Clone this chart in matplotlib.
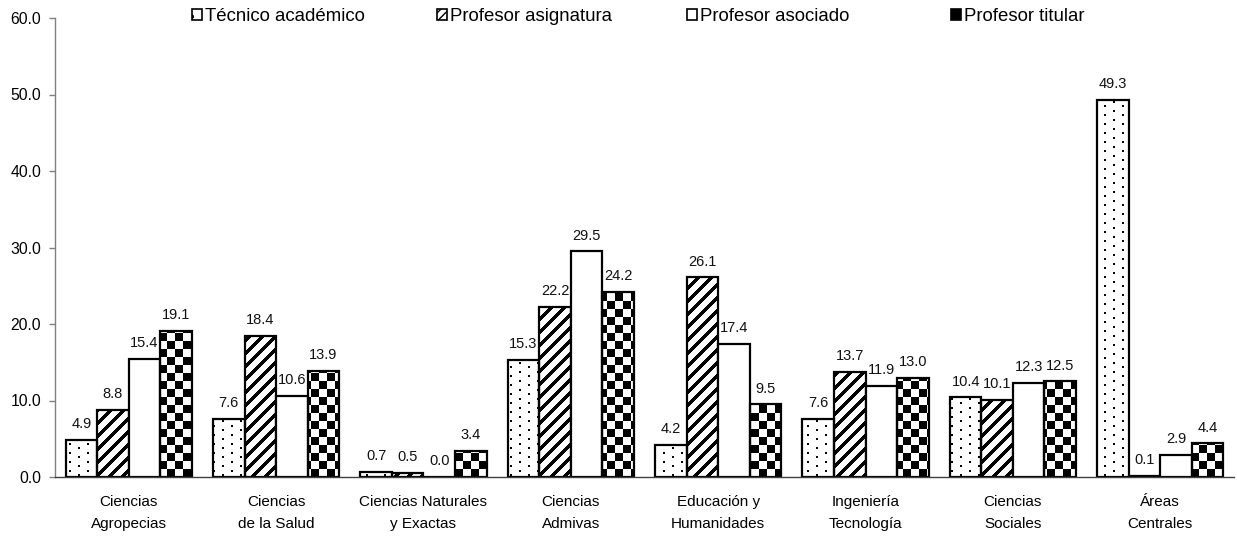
import numpy as np
import matplotlib
matplotlib.use("Agg")
import matplotlib.pyplot as plt
from matplotlib.patches import Patch
from matplotlib.path import Path

plt.rcParams['font.family'] = ['Liberation Sans', 'DejaVu Sans']

categories = ["Ciencias\nAgropecias", "Ciencias\nde la Salud", "Ciencias Naturales\ny Exactas",
              "Ciencias\nAdmivas", "Educación y\nHumanidades", "Ingeniería\nTecnología",
              "Ciencias\nSociales", "Áreas\nCentrales"]
series_names = ["Técnico académico", "Profesor asignatura", "Profesor asociado", "Profesor titular"]
tecnico = [4.9, 7.6, 0.7, 15.3, 4.2, 7.6, 10.4, 49.3]
asignatura = [8.8, 18.4, 0.5, 22.2, 26.1, 13.7, 10.1, 0.1]
asociado = [15.4, 10.6, 0.0, 29.5, 17.4, 11.9, 12.3, 2.9]
titular = [19.1, 13.9, 3.4, 24.2, 9.5, 13.0, 12.5, 4.4]
yticks = [0, 10, 20, 30, 40, 50, 60]

W, H, DPI = 12.37, 5.36, 100
fig = plt.figure(figsize=(W, H), dpi=DPI)
ax_rect = [55 / 1237, 1 - 477 / 536, (1234 - 55) / 1237, (477 - 18) / 536]
ax = fig.add_axes(ax_rect)

x = np.arange(len(categories))
bw = 0.214
offsets = np.array([-1.5, -0.5, 0.5, 1.5]) * bw
data = [tecnico, asignatura, asociado, titular]
faces = ['none', 'none', 'white', 'none']

containers = []
for d, off, fc in zip(data, offsets, faces):
    c = ax.bar(x + off, d, width=bw, facecolor=fc, edgecolor='black', linewidth=1.6, zorder=2)
    containers.append(c)

ax.set_xlim(-0.5, len(categories) - 0.5)
ax.set_ylim(0, 60)

# textures in pixel space
pw = int(round(ax_rect[2] * W * DPI))
ph = int(round(ax_rect[3] * H * DPI))
yy, xx = np.mgrid[0:ph, 0:pw]

dots = np.ones((ph, pw))
mask = (((xx + 4) % 9) < 2) & (((yy + 4 + (((xx + 4) // 9) % 2) * 4) % 9) < 2)
dots[mask] = 0

stripes = np.ones((ph, pw))
stripes[((xx - yy) % 13) < 5] = 0

checker = np.ones((ph, pw))
checker[((xx // 8) + (yy // 8)) % 2 == 0] = 0

textures = [dots, stripes, None, checker]
for tex, c in zip(textures, containers):
    if tex is None:
        continue
    paths = [p.get_path().transformed(p.get_patch_transform()) for p in c.patches]
    comp = Path.make_compound_path(*paths)
    im = ax.imshow(tex, cmap='gray', vmin=0, vmax=1, extent=(0, 1, 0, 1),
                   transform=ax.transAxes, origin='lower', interpolation='nearest',
                   aspect='auto', zorder=1)
    im.set_clip_path(comp, ax.transData)

ax.set_xlim(-0.5, len(categories) - 0.5)
ax.set_ylim(0, 60)

# value labels
for d, off in zip(data, offsets):
    for xi, v in zip(x, d):
        ax.annotate(f"{v:.1f}", (xi + off, v), xytext=(0, 8.5), textcoords='offset points',
                    ha='center', va='baseline', fontsize=10.5, color='#111111', zorder=4)

ax.set_yticks(yticks)
ax.set_yticklabels([f"{t:.1f}" for t in yticks], fontsize=11.3)
ax.set_xticks(x)
ax.set_xticklabels(categories, fontsize=11, linespacing=1.75)
ax.tick_params(axis='x', length=0, pad=13)
ax.tick_params(axis='y', length=4, width=1, color='#808080', pad=6)
for s in ['top', 'right']:
    ax.spines[s].set_visible(False)
ax.spines['left'].set_color('#808080')
ax.spines['bottom'].set_color('#404040')
ax.spines['left'].set_linewidth(1)
ax.spines['bottom'].set_linewidth(1)

handles = [
    Patch(facecolor='white', edgecolor='black', hatch='.', linewidth=1.2),
    Patch(facecolor='white', edgecolor='black', hatch='////', linewidth=1.2),
    Patch(facecolor='white', edgecolor='black', linewidth=1.2),
    Patch(facecolor='black', edgecolor='black', linewidth=1.2),
]
legend_x = [188, 433, 683, 947]
for h, name, lx in zip(handles, series_names, legend_x):
    fig.legend([h], [name], loc='upper left', bbox_to_anchor=(lx / 1237, 0.9915),
               frameon=False, fontsize=13.4, handlelength=0.55, handleheight=0.55,
               handletextpad=0.15, borderaxespad=0, borderpad=0.2)

fig.savefig("out.png", dpi=DPI)
